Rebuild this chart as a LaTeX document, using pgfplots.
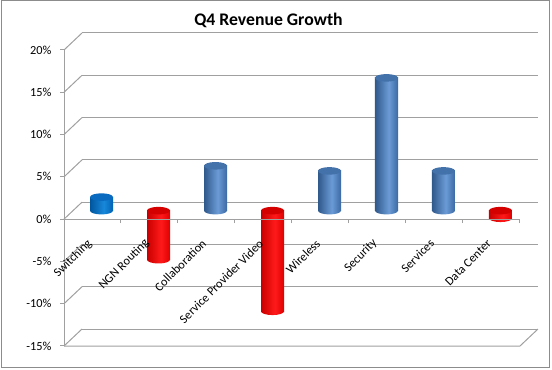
\documentclass[border=0pt]{standalone}
\usepackage{pgfplots}
\pgfplotsset{compat=1.18}
\usepackage{fontspec}
\setmainfont{Carlito}
\definecolor{gridc}{HTML}{A0A0A0}
\definecolor{framec}{HTML}{8C8C8C}
\definecolor{bA}{HTML}{30598C}
\definecolor{bB}{HTML}{6B9BD6}
\definecolor{bC}{HTML}{3A69A3}
\definecolor{bT}{HTML}{4372AA}
\definecolor{sA}{HTML}{00569E}
\definecolor{sB}{HTML}{1788DA}
\definecolor{sC}{HTML}{0062B4}
\definecolor{sT}{HTML}{0A6AC0}
\definecolor{rA}{HTML}{C80000}
\definecolor{rB}{HTML}{FF1A1A}
\definecolor{rC}{HTML}{E00000}
\definecolor{rT}{HTML}{D40000}
\pgfdeclarehorizontalshading{blucyl}{100bp}{color(0bp)=(bA); color(25bp)=(bA); color(55bp)=(bB); color(75bp)=(bC); color(100bp)=(bC)}
\pgfdeclarehorizontalshading{swcyl}{100bp}{color(0bp)=(sA); color(25bp)=(sA); color(55bp)=(sB); color(75bp)=(sC); color(100bp)=(sC)}
\pgfdeclarehorizontalshading{redcyl}{100bp}{color(0bp)=(rA); color(25bp)=(rA); color(55bp)=(rB); color(75bp)=(rC); color(100bp)=(rC)}
\newcommand\cylell{\pgfpathellipse{\pgfpointorigin}{\pgfqpoint{11.5bp}{0pt}}{\pgfqpoint{0pt}{3.8bp}}}
\pgfdeclareplotmark{blubot}{\cylell\pgfshadepath{blucyl}{0}\pgfusepath{discard}}
\pgfdeclareplotmark{swbot}{\cylell\pgfshadepath{swcyl}{0}\pgfusepath{discard}}
\pgfdeclareplotmark{redbot}{\cylell\pgfshadepath{redcyl}{0}\pgfusepath{discard}}
\pgfdeclareplotmark{blutop}{\cylell\pgfsetfillcolor{bT}\pgfusepath{fill}}
\pgfdeclareplotmark{swtop}{\cylell\pgfsetfillcolor{sT}\pgfusepath{fill}}
\pgfdeclareplotmark{redtop}{\cylell\pgfsetfillcolor{rT}\pgfusepath{fill}}
\pgfplotsset{
  cylax/.style={scale only axis, width=456bp, height=296bp,
    xmin=0, xmax=8, ymin=-15, ymax=20, clip=false},
}
\tikzset{lbl/.style={font=\fontsize{12.3bp}{14bp}\selectfont}}
\begin{document}
\begin{tikzpicture}
\useasboundingbox (0,0) rectangle (552bp,370bp);
\draw[framec, line width=1bp] (1.5bp,2bp) rectangle (549bp,369bp);
\node[font=\fontsize{17.7bp}{20bp}\selectfont\bfseries, anchor=base] at (268.5bp,344bp) {Q4 Revenue Growth};
% back wall, side wall and floor
\begin{axis}[cylax, at={(82bp,41bp)}, anchor=south west,
  axis line style={draw=none}, xtick=\empty, ytick={-15,-10,...,20},
  yticklabels={}, major tick length=0pt, ymajorgrids,
  grid style={gridc, line width=1bp}]
\pgfplotsinvokeforeach{-15,-10,...,20}{
  \draw[gridc, line width=1bp] (axis cs:0,#1) -- ++(-18bp,-17bp);}
\draw[gridc, line width=1bp] (axis cs:8,-15) -- ++(-18bp,-17bp) -- ([shift={(-18bp,-17bp)}]axis cs:0,-15);
\end{axis}
% cylinders (middle depth)
\begin{axis}[cylax, at={(73bp,32.5bp)}, anchor=south west, hide axis]
% Switching
\addplot[only marks, mark=swbot, mark options={draw=none}] coordinates {(0.5,0)};
\addplot[ybar, bar width=23bp, bar shift=0pt, draw=none, shade, shading=swcyl] coordinates {(0.5,1.6)};
\addplot[only marks, mark=swtop, mark options={draw=none}] coordinates {(0.5,1.6)};
% NGN Routing
\addplot[only marks, mark=redbot, mark options={draw=none}] coordinates {(1.5,-5.8)};
\addplot[ybar, bar width=23bp, bar shift=0pt, draw=none, shade, shading=redcyl] coordinates {(1.5,-5.8)};
\addplot[only marks, mark=redtop, mark options={draw=none}] coordinates {(1.5,0)};
% Collaboration
\addplot[only marks, mark=blubot, mark options={draw=none}] coordinates {(2.5,0)};
\addplot[ybar, bar width=23bp, bar shift=0pt, draw=none, shade, shading=blucyl] coordinates {(2.5,5.3)};
\addplot[only marks, mark=blutop, mark options={draw=none}] coordinates {(2.5,5.3)};
% Service Provider Video
\addplot[only marks, mark=redbot, mark options={draw=none}] coordinates {(3.5,-11.9)};
\addplot[ybar, bar width=23bp, bar shift=0pt, draw=none, shade, shading=redcyl] coordinates {(3.5,-11.9)};
\addplot[only marks, mark=redtop, mark options={draw=none}] coordinates {(3.5,0)};
% Wireless
\addplot[only marks, mark=blubot, mark options={draw=none}] coordinates {(4.5,0)};
\addplot[ybar, bar width=23bp, bar shift=0pt, draw=none, shade, shading=blucyl] coordinates {(4.5,4.7)};
\addplot[only marks, mark=blutop, mark options={draw=none}] coordinates {(4.5,4.7)};
% Security
\addplot[only marks, mark=blubot, mark options={draw=none}] coordinates {(5.5,0)};
\addplot[ybar, bar width=23bp, bar shift=0pt, draw=none, shade, shading=blucyl] coordinates {(5.5,15.7)};
\addplot[only marks, mark=blutop, mark options={draw=none}] coordinates {(5.5,15.7)};
% Services
\addplot[only marks, mark=blubot, mark options={draw=none}] coordinates {(6.5,0)};
\addplot[ybar, bar width=23bp, bar shift=0pt, draw=none, shade, shading=blucyl] coordinates {(6.5,4.7)};
\addplot[only marks, mark=blutop, mark options={draw=none}] coordinates {(6.5,4.7)};
% Data Center
\addplot[only marks, mark=redbot, mark options={draw=none}] coordinates {(7.5,-0.9)};
\addplot[ybar, bar width=23bp, bar shift=0pt, draw=none, shade, shading=redcyl] coordinates {(7.5,-0.9)};
\addplot[only marks, mark=redtop, mark options={draw=none}] coordinates {(7.5,0)};
\end{axis}
% front axes
\begin{axis}[cylax, at={(64bp,24bp)}, anchor=south west,
  axis y line*=left, axis x line*=middle,
  axis line style={gridc, line width=1bp},
  tick style={gridc, line width=1bp},
  tick align=outside, major tick length=4bp,
  ytick={-15,-10,...,20},
  yticklabels={-15\%,-10\%,-5\%,0\%,5\%,10\%,15\%,20\%},
  yticklabel style={lbl, text=black, xshift=-5bp},
  xtick={0,...,8}, xticklabels={},
  extra x ticks={0.5,1.5,...,7.5},
  extra x tick labels={Switching,NGN Routing,Collaboration,Service Provider Video,Wireless,Security,Services,Data Center},
  extra x tick style={major tick length=0pt,
    xticklabel style={lbl, text=black, yshift=-20bp, rotate=45, anchor=east}},
]
\end{axis}
\end{tikzpicture}
\end{document}
